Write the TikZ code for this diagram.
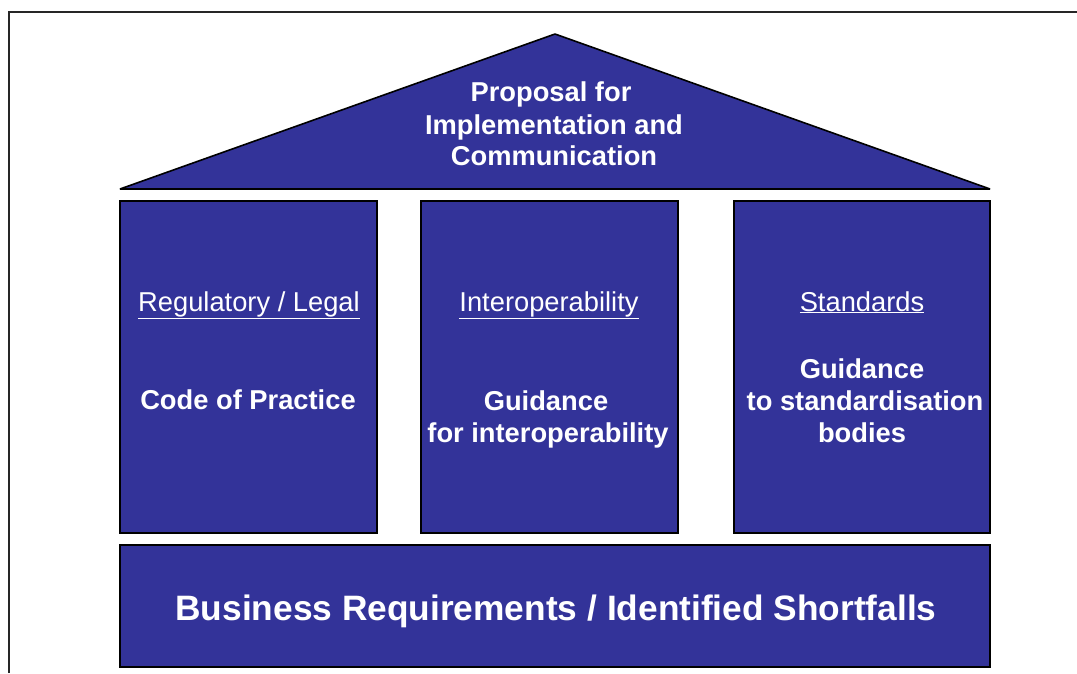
\documentclass[tikz,border=0pt]{standalone}
\usepackage{fontspec}
\setmainfont{Liberation Sans}
\definecolor{housefill}{RGB}{51,51,153}
\newcommand{\ulthick}[1]{\underline{#1}}
\begin{document}
\begin{tikzpicture}[x=1pt,y=-1pt,
  block/.style={draw=black,line width=1.6pt,fill=housefill,inner sep=0pt,outer sep=0pt},
  lbl/.style={text=white,inner sep=0pt,anchor=base,font=\fontsize{27.3}{32}\selectfont},
  blbl/.style={lbl,font=\fontsize{27.3}{32}\selectfont\bfseries},
  biglbl/.style={text=white,inner sep=0pt,anchor=base,font=\fontsize{35.3}{40}\selectfont\bfseries}]
\useasboundingbox (0,0) rectangle (1077,673);
% frame
\coordinate (fA) at (9,673);
\coordinate (fB) at (9,12);
\coordinate (fC) at (1077,12);
\draw[line width=2pt,black!85] (fA) -- (fB) -- (fC);
% roof
\coordinate (rL) at (120,189);
\coordinate (rR) at (990,189);
\coordinate (rT) at (555,34);
\draw[block,line join=bevel] (rL) -- (rT) -- (rR) -- cycle;
% pillars
\node[block,minimum width=257pt,minimum height=332pt] (p1) at (248.5,367) {};
\node[block,minimum width=257pt,minimum height=332pt] (p2) at (549.5,367) {};
\node[block,minimum width=256pt,minimum height=332pt] (p3) at (862,367) {};
% base
\node[block,minimum width=870pt,minimum height=122pt] (base) at (555,606) {};
% roof text
\node[blbl] (t1) at (551,101) {Proposal for};
\node[blbl] (t2) at (554,134) {Implementation and};
\node[blbl] (t3) at (554,165) {Communication};
% pillar 1
\node[lbl] (h1) at (249,311) {\ulthick{Regulatory / Legal}};
\node[blbl] (c1) at (248,409) {Code of Practice};
% pillar 2
\node[lbl] (h2) at (549,311) {\ulthick{Interoperability}};
\node[blbl] (c2a) at (546,410) {Guidance};
\node[blbl] (c2b) at (548,442) {for interoperability};
% pillar 3
\node[lbl] (h3) at (862,311) {\ulthick{Standards}};
\node[blbl] (c3a) at (862,378) {Guidance};
\node[blbl] (c3b) at (865,410) {to standardisation};
\node[blbl] (c3c) at (862,442) {bodies};
% base text
\node[biglbl] (bt) at (556,620) {Business Requirements / Identified Shortfalls};
\end{tikzpicture}
\end{document}
